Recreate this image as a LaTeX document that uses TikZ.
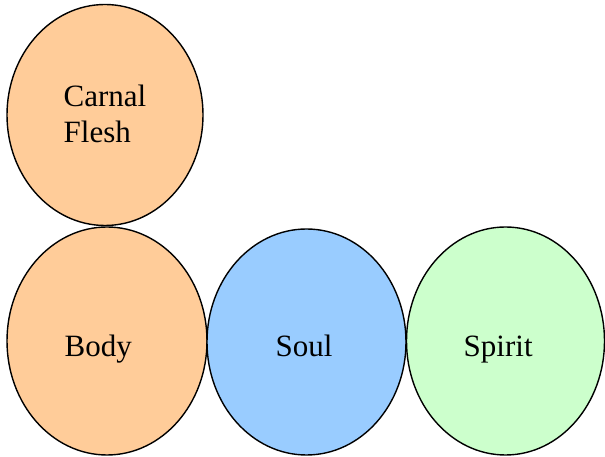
\documentclass[tikz,border=0pt]{standalone}
\usepackage{fontspec}
\setmainfont{Liberation Serif}
\usetikzlibrary{shapes.geometric}

\definecolor{peach}{HTML}{FFCC99}
\definecolor{skyblue}{HTML}{99CCFF}
\definecolor{mint}{HTML}{CCFFCC}

\begin{document}
\begin{tikzpicture}[x=1pt,y=1pt,line width=1.4pt,
	font=\fontsize{31}{36}\selectfont]
	\tikzstyle{part}=[ellipse,draw=black,inner sep=0pt]
	\tikzstyle{word}=[anchor=base west,inner sep=0pt,align=left]
	
	\useasboundingbox (0,0) rectangle (605,457);
	
	\node[part,fill=peach,minimum width=196,minimum height=221]    (flesh)  at (105,342)   {};
	\node[part,fill=peach,minimum width=200,minimum height=228]    (body)   at (107,116)   {};
	\node[part,fill=skyblue,minimum width=199,minimum height=226]  (soul)   at (306.5,115) {};
	\node[part,fill=mint,minimum width=198,minimum height=228]     (spirit) at (505.5,116) {};
	
	\node[word] (fleshtext)  at (63,314)  {Carnal\\Flesh};
	\node[word] (bodytext)   at (64,100)  {Body};
	\node[word] (soultext)   at (275,100) {Soul};
	\node[word] (spirittext) at (463,100) {Spirit};
	
\end{tikzpicture}
\end{document}
